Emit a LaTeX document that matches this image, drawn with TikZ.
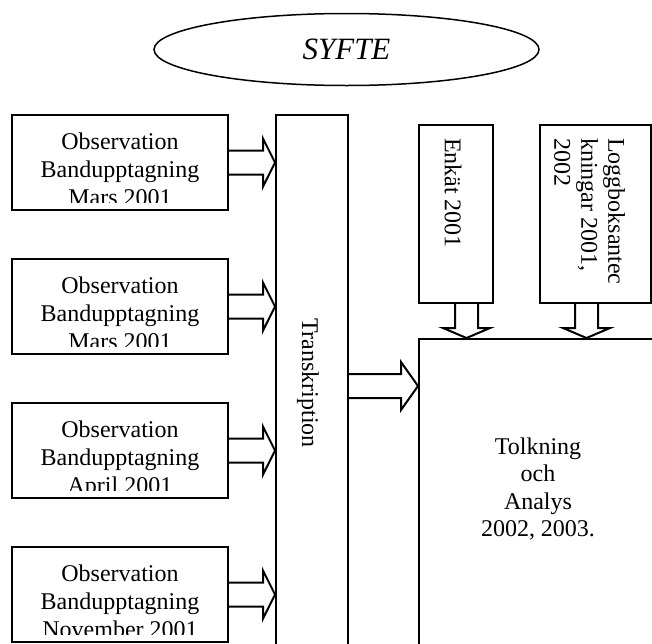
\documentclass[tikz,border=0pt]{standalone}
\usepackage{fontspec}
\setmainfont{Liberation Serif}
\usetikzlibrary{shapes.geometric,calc}
\newcommand\rarr[4]{% source, target, y-level coordinate, head length
  \draw[blk] ($(#1.east|-#3)+(0,-12)$) -- ($(#2.west|-#3)+(-#4,-12)$) -- ++(0,-12)
    -- (#2.west|-#3) -- ++(-#4,24) -- ++(0,-12) -- ($(#1.east|-#3)+(0,12)$);}
\newcommand\darr[4]{% source, target, x-level coordinate, head length
  \draw[blk] ($(#1.south-|#3)+(-11.5,0)$) -- ($(#2.north-|#3)+(-11.5,-#4)$) -- ++(-12,0)
    -- (#2.north-|#3) -- ++(23.5,-#4) -- ++(-12,0) -- ($(#1.south-|#3)+(11.5,0)$);}
\begin{document}
\begin{tikzpicture}[x=1pt,y=-1pt,line width=2pt,
  boxnode/.style={draw,rectangle,inner sep=0pt,anchor=north west},
  obs/.style={boxnode,minimum width=216pt,minimum height=95pt},
  txt/.style={font=\fontsize{24}{28}\selectfont,align=center,inner sep=0pt},
  blk/.style={draw,line width=2pt,line join=miter}]
\useasboundingbox (0,0) rectangle (652,643);
\clip (0,0) rectangle (652,643);
% SYFTE
\node[draw,ellipse,line width=1.5pt,minimum width=385pt,minimum height=72pt,inner sep=0pt,
  font=\fontsize{31}{36}\selectfont\itshape] (syfte) at (346.5,49.5) {SYFTE};
% observation boxes
\node[obs] (o1) at (11,114) {};
\node[obs] (o2) at (11,258) {};
\node[obs] (o3) at (11,402) {};
\node[obs] (o4) at (11,546) {};
\begin{scope}
\clip (o1.north west) rectangle ($(o1.south east)+(0,-9)$);
\node[txt,anchor=north] (o1t) at ($(o1.north)+(0,17.5)$) {Observation\\Bandupptagning\\Mars 2001};
\end{scope}
\begin{scope}
\clip (o2.north west) rectangle ($(o2.south east)+(0,-9)$);
\node[txt,anchor=north] (o2t) at ($(o2.north)+(0,17.5)$) {Observation\\Bandupptagning\\Mars 2001};
\end{scope}
\begin{scope}
\clip (o3.north west) rectangle ($(o3.south east)+(0,-9)$);
\node[txt,anchor=north] (o3t) at ($(o3.north)+(0,17.5)$) {Observation\\Bandupptagning\\April 2001};
\end{scope}
\begin{scope}
\clip (o4.north west) rectangle ($(o4.south east)+(0,-9)$);
\node[txt,anchor=north] (o4t) at ($(o4.north)+(0,17.5)$) {Observation\\Bandupptagning\\November 2001};
\end{scope}
% Transkription
\node[boxnode,minimum width=72pt,minimum height=560pt] (tr) at (275,114) {};
\node[txt,rotate=-90] (trt) at (308,383) {Transkription};
% Enkat and Loggbok
\node[boxnode,minimum width=74pt,minimum height=178pt] (enk) at (418,124) {};
\node[txt,rotate=-90,anchor=west] (enkt) at (453,137) {Enkät 2001};
\node[boxnode,minimum width=111pt,minimum height=178pt] (logg) at (539,124) {};
\node[txt,font=\fontsize{24}{27}\selectfont,align=left,rotate=-90,anchor=north west] (loggt) at (626,137)
  {Loggboksantec\\kningar 2001,\\2002};
% Tolkning
\node[boxnode,minimum width=262pt,minimum height=330pt] (tolk) at (418,338) {};
\node[txt,font=\fontsize{24}{27.3}\selectfont] (tolkt) at (538,489) {Tolkning\\och\\Analys\\2002, 2003.};
% level coordinates
\coordinate (ymid) at (0,386);
\coordinate (xenk) at (466.5,0);
\coordinate (xlogg) at (586.5,0);
% arrows
\rarr{o1}{tr}{o1.east}{12}
\rarr{o2}{tr}{o2.east}{12}
\rarr{o3}{tr}{o3.east}{12}
\rarr{o4}{tr}{o4.east}{12}
\rarr{tr}{tolk}{ymid}{17}
\darr{enk}{tolk}{xenk}{10}
\darr{logg}{tolk}{xlogg}{10}
\end{tikzpicture}
\end{document}
